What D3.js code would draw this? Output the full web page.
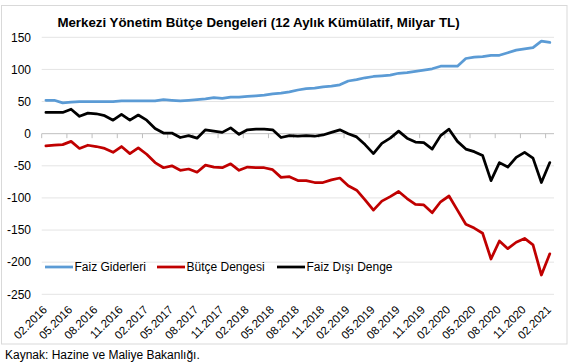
<!DOCTYPE html>
<html>
<head>
<meta charset="utf-8">
<script src="https://cdn.jsdelivr.net/npm/d3@7"></script>
<style>
  body { margin: 0; background: #fff; }
  svg text { font-family: "Liberation Sans", Arial, sans-serif; }
</style>
</head>
<body>
<svg width="575" height="363"></svg>
<script>
// months 02.2016 .. 02.2021
const months = [];
for (let y = 2016; y <= 2021; y++)
	for (let m = 1; m <= 12; m++) {
		if ((y === 2016 && m < 2) || (y === 2021 && m > 2)) continue;
		months.push(String(m).padStart(2, "0") + "." + y);
	}

const faizGiderleri = [52, 52, 48, 49, 50, 50, 50, 50, 50, 51, 51, 51, 51, 51, 53, 52, 51, 52, 53, 54,
	56, 55, 57, 57, 58, 59, 60, 62, 63, 65, 68, 70, 71, 73, 74, 76, 82, 84, 87, 89,
	90, 91, 94, 95, 97, 99, 101, 105, 105, 105, 117, 119, 120, 122, 122, 126, 130, 132, 134, 144, 142];
const butceDengesi = [-19, -18, -17, -12, -23, -18, -20, -23, -29, -20, -31, -22, -32, -45, -53, -50, -57, -55, -60, -49,
	-52, -53, -47, -57, -52, -53, -53, -56, -68, -67, -73, -73, -76, -76, -72, -69, -81, -88, -103, -119,
	-105, -98, -90, -101, -110, -111, -123, -106, -97, -119, -141, -147, -155, -195, -167, -179, -169, -163, -173, -220, -187];
const faizDisiDenge = [33, 33, 33, 38, 27, 32, 31, 28, 21, 30, 21, 29, 21, 8, 1, 1, -6, -3, -7, 6,
	4, 2, 9, -1, 6, 7, 7, 6, -6, -3, -4, -3, -4, -2, 2, 6, 0, -5, -17, -31,
	-15, -7, 4, -7, -13, -14, -24, -3, 7, -12, -24, -28, -34, -73, -45, -52, -37, -29, -38, -76, -45];

const yTicks = [150, 100, 50, 0, -50, -100, -150, -200, -250];
const seriesNames = ["Faiz Giderleri", "Bütçe Dengesi", "Faiz Dışı Denge"];
const seriesColors = ["#5b9bd5", "#c00000", "#000000"];
const seriesValues = [faizGiderleri, butceDengesi, faizDisiDenge];

const svg = d3.select("svg");

// chart border
svg.append("rect")
	.attr("x", 1.5).attr("y", 5.5)
	.attr("width", 565.5).attr("height", 338.5)
	.attr("fill", "none").attr("stroke", "#d9d9d9");

const x = d3.scaleBand().domain(months).range([41.7, 554]);
const xc = d => x(d) + x.bandwidth() / 2;
const y = d3.scaleLinear().domain([-250, 150]).range([294.3, 37.3]);

// grid
svg.append("g")
	.selectAll("line")
	.data(yTicks.filter(t => t !== 0))
	.join("line")
	.attr("x1", 41.7).attr("x2", 554)
	.attr("y1", d => y(d)).attr("y2", d => y(d))
	.attr("stroke", "#e4e4e4");

svg.append("g")
	.attr("font-size", "12px")
	.attr("text-anchor", "end")
	.selectAll("text")
	.data(yTicks)
	.join("text")
	.attr("x", 31)
	.attr("y", d => y(d))
	.attr("dy", "0.36em")
	.text(d => d);

// zero axis with ticks
svg.append("line")
	.attr("x1", 41.7).attr("x2", 554)
	.attr("y1", y(0)).attr("y2", y(0))
	.attr("stroke", "#bfbfbf");

const tickMonths = months.filter((d, i) => i % 3 === 0);
svg.append("g")
	.selectAll("line")
	.data(tickMonths)
	.join("line")
	.attr("x1", d => x(d)).attr("x2", d => x(d))
	.attr("y1", y(0)).attr("y2", y(0) + 4.5)
	.attr("stroke", "#bfbfbf");

svg.append("g")
	.attr("font-size", "11.5px")
	.attr("text-anchor", "end")
	.selectAll("text")
	.data(tickMonths)
	.join("text")
	.attr("transform", d => `translate(${xc(d) + 2},310.5) rotate(-45)`)
	.text(d => d);

// lines
const line = d3.line()
	.x((d, i) => xc(months[i]))
	.y(d => y(d));

svg.append("g")
	.selectAll("path")
	.data(seriesValues)
	.join("path")
	.attr("fill", "none")
	.attr("stroke", (d, i) => seriesColors[i])
	.attr("stroke-width", 2.75)
	.attr("stroke-linejoin", "round")
	.attr("stroke-linecap", "round")
	.attr("d", line);

// legend
const legX = [45, 157, 277];
const leg = svg.append("g")
	.selectAll("g")
	.data(seriesNames)
	.join("g")
	.attr("transform", (d, i) => `translate(${legX[i]},267)`);
leg.append("line")
	.attr("x1", 0).attr("x2", 28)
	.attr("stroke", (d, i) => seriesColors[i])
	.attr("stroke-width", 2.75);
leg.append("text")
	.attr("x", 29.5)
	.attr("dy", "0.36em")
	.attr("font-size", "12px")
	.text(d => d);

// title
svg.append("text")
	.attr("x", 258.5).attr("y", 26.5)
	.attr("text-anchor", "middle")
	.attr("font-size", "13.3px")
	.attr("font-weight", "bold")
	.text("Merkezi Yönetim Bütçe Dengeleri (12 Aylık Kümülatif, Milyar TL)");

svg.append("text")
	.attr("x", 5).attr("y", 358.5)
	.attr("font-size", "12px")
	.text("Kaynak: Hazine ve Maliye Bakanlığı.");
</script>
</body>
</html>
